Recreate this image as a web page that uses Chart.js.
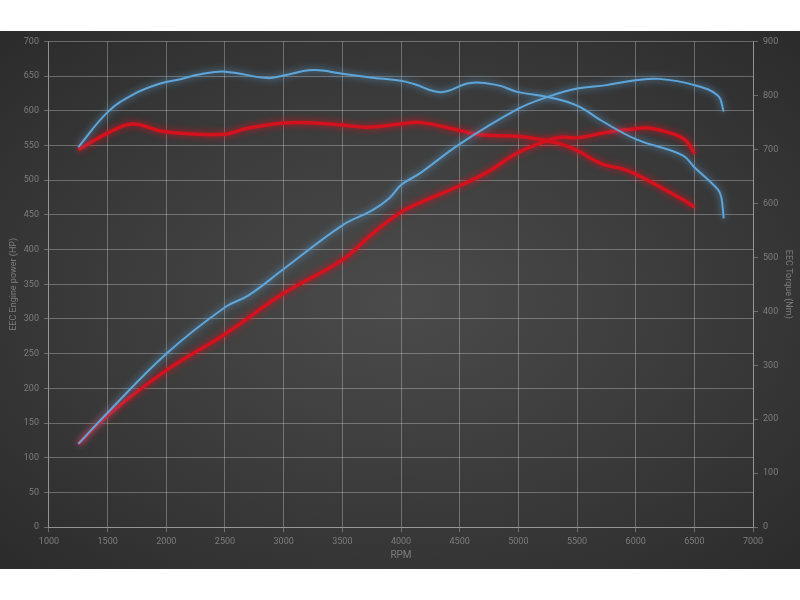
<!DOCTYPE html>
<html>
<head>
<meta charset="utf-8">
<script src="https://cdn.jsdelivr.net/npm/chart.js@4.4.1/dist/chart.umd.min.js"></script>
<style>
    html, body { margin: 0; padding: 0; background: #fff; }
    #wrap {
        position: absolute; left: 0; top: 31px; width: 800px; height: 538px;
        background: radial-gradient(ellipse at 50% 50%, #4b4b4b 0%, #3a3a3a 55%, #2b2b2b 100%);
    }
</style>
</head>
<body>
<div id="wrap"><canvas id="dyno"></canvas></div>
<script>
// blue run - power (HP)
const bluePowerRpm = [1250, 1500, 2000, 2500, 2700, 3000, 3500, 3750, 3900, 4000, 4170, 4500, 5000, 5250, 5500, 5750, 6000, 6200, 6500, 6700, 6750];
const bluePowerHp  = [120, 165, 250, 317, 334, 372, 435, 456, 474, 493, 511, 552, 603, 620, 632, 637, 644, 646, 637, 622, 599];

// red run - power (HP)
const redPowerRpm = [1250, 1500, 2000, 2500, 3000, 3500, 3750, 4000, 4170, 4500, 4740, 5000, 5250, 5360, 5500, 5760, 6000, 6130, 6350, 6440, 6500];
const redPowerHp  = [120, 161, 226, 278, 337, 385, 422, 454, 468, 492, 512, 540, 557, 562, 561, 569, 574, 575, 565, 555, 538];

// blue run - torque (Nm)
const blueTorqueRpm = [1250, 1500, 1720, 1950, 2120, 2290, 2500, 2860, 3000, 3250, 3500, 3740, 4000, 4110, 4340, 4590, 4820, 5000, 5250, 5500, 5710, 6000, 6400, 6500, 6700, 6730, 6750];
const blueTorqueNm  = [704, 769, 802, 822, 830, 839, 844, 832, 837, 847, 840, 833, 827, 821, 806, 823, 819, 806, 797, 781, 753, 719, 689, 667, 626, 611, 572];

// red run - torque (Nm)
const redTorqueRpm = [1250, 1500, 1710, 1950, 2120, 2500, 2690, 3000, 3260, 3500, 3710, 4000, 4160, 4500, 4670, 5000, 5250, 5360, 5500, 5710, 5900, 6000, 6210, 6400, 6500];
const redTorqueNm  = [699, 730, 747, 734, 730, 728, 739, 749, 749, 745, 741, 747, 750, 735, 727, 724, 716, 710, 698, 673, 663, 654, 630, 607, 593];

const BLUE = '#5ea6da';
const RED = '#d3121e';
const GRID = 'rgba(255,255,255,0.28)';
const TEXT = '#7d7d7d';

function pts(xs, ys) {
    return xs.map((x, i) => ({x: x, y: ys[i]}));
}

function line(label, xs, ys, color, width, axis) {
    return {
        label: label,
        data: pts(xs, ys),
        borderColor: color,
        borderWidth: width,
        pointRadius: 0,
        tension: 0.4,
        fill: false,
        yAxisID: axis
    };
}

// soft neon glow around every line
const glow = {
    id: 'glow',
    beforeDatasetDraw(chart, args) {
        const ctx = chart.ctx;
        ctx.save();
        ctx.shadowColor = args.meta.dataset.options.borderColor;
        ctx.shadowBlur = 7;
    },
    afterDatasetDraw(chart) {
        chart.ctx.restore();
    }
};

const plain = v => String(v);

window.onload = function () {
    Chart.defaults.font.family = 'Roboto, "Open Sans", sans-serif';
    Chart.defaults.font.size = 9;
    Chart.defaults.color = TEXT;

    new Chart(document.getElementById('dyno'), {
        type: 'line',
        data: {
            datasets: [
                line('Power blue', bluePowerRpm, bluePowerHp, BLUE, 2, 'hp'),
                line('Torque blue', blueTorqueRpm, blueTorqueNm, BLUE, 2, 'nm'),
                line('Power red', redPowerRpm, redPowerHp, RED, 3.5, 'hp'),
                line('Torque red', redTorqueRpm, redTorqueNm, RED, 3.5, 'nm')
            ]
        },
        options: {
            responsive: true,
            maintainAspectRatio: false,
            animation: false,
            layout: { padding: { top: 0, left: 8, right: 6, bottom: 9 } },
            plugins: {
                legend: { display: false },
                tooltip: { enabled: false }
            },
            scales: {
                x: {
                    type: 'linear',
                    min: 1000,
                    max: 7000,
                    ticks: { stepSize: 500, color: TEXT, padding: 4, callback: plain },
                    grid: { color: GRID, tickLength: 5 },
                    border: { color: GRID },
                    title: { display: true, text: 'RPM', color: TEXT, font: { size: 10, lineHeight: 0.9 }, padding: 0 }
                },
                hp: {
                    position: 'left',
                    min: 0,
                    max: 700,
                    ticks: { stepSize: 50, color: TEXT, padding: 5, callback: plain },
                    grid: { color: GRID, tickLength: 5 },
                    border: { color: GRID },
                    title: { display: true, text: 'EEC Engine power (HP)', color: TEXT, font: { size: 9 }, padding: 0 }
                },
                nm: {
                    position: 'right',
                    min: 0,
                    max: 900,
                    ticks: { stepSize: 100, color: TEXT, padding: 5, callback: plain },
                    grid: { drawOnChartArea: false, color: GRID, tickLength: 5 },
                    border: { color: GRID },
                    title: { display: true, text: 'EEC Torque (Nm)', color: TEXT, font: { size: 9 }, padding: 0 }
                }
            }
        },
        plugins: [glow]
    });
};
</script>
</body>
</html>
